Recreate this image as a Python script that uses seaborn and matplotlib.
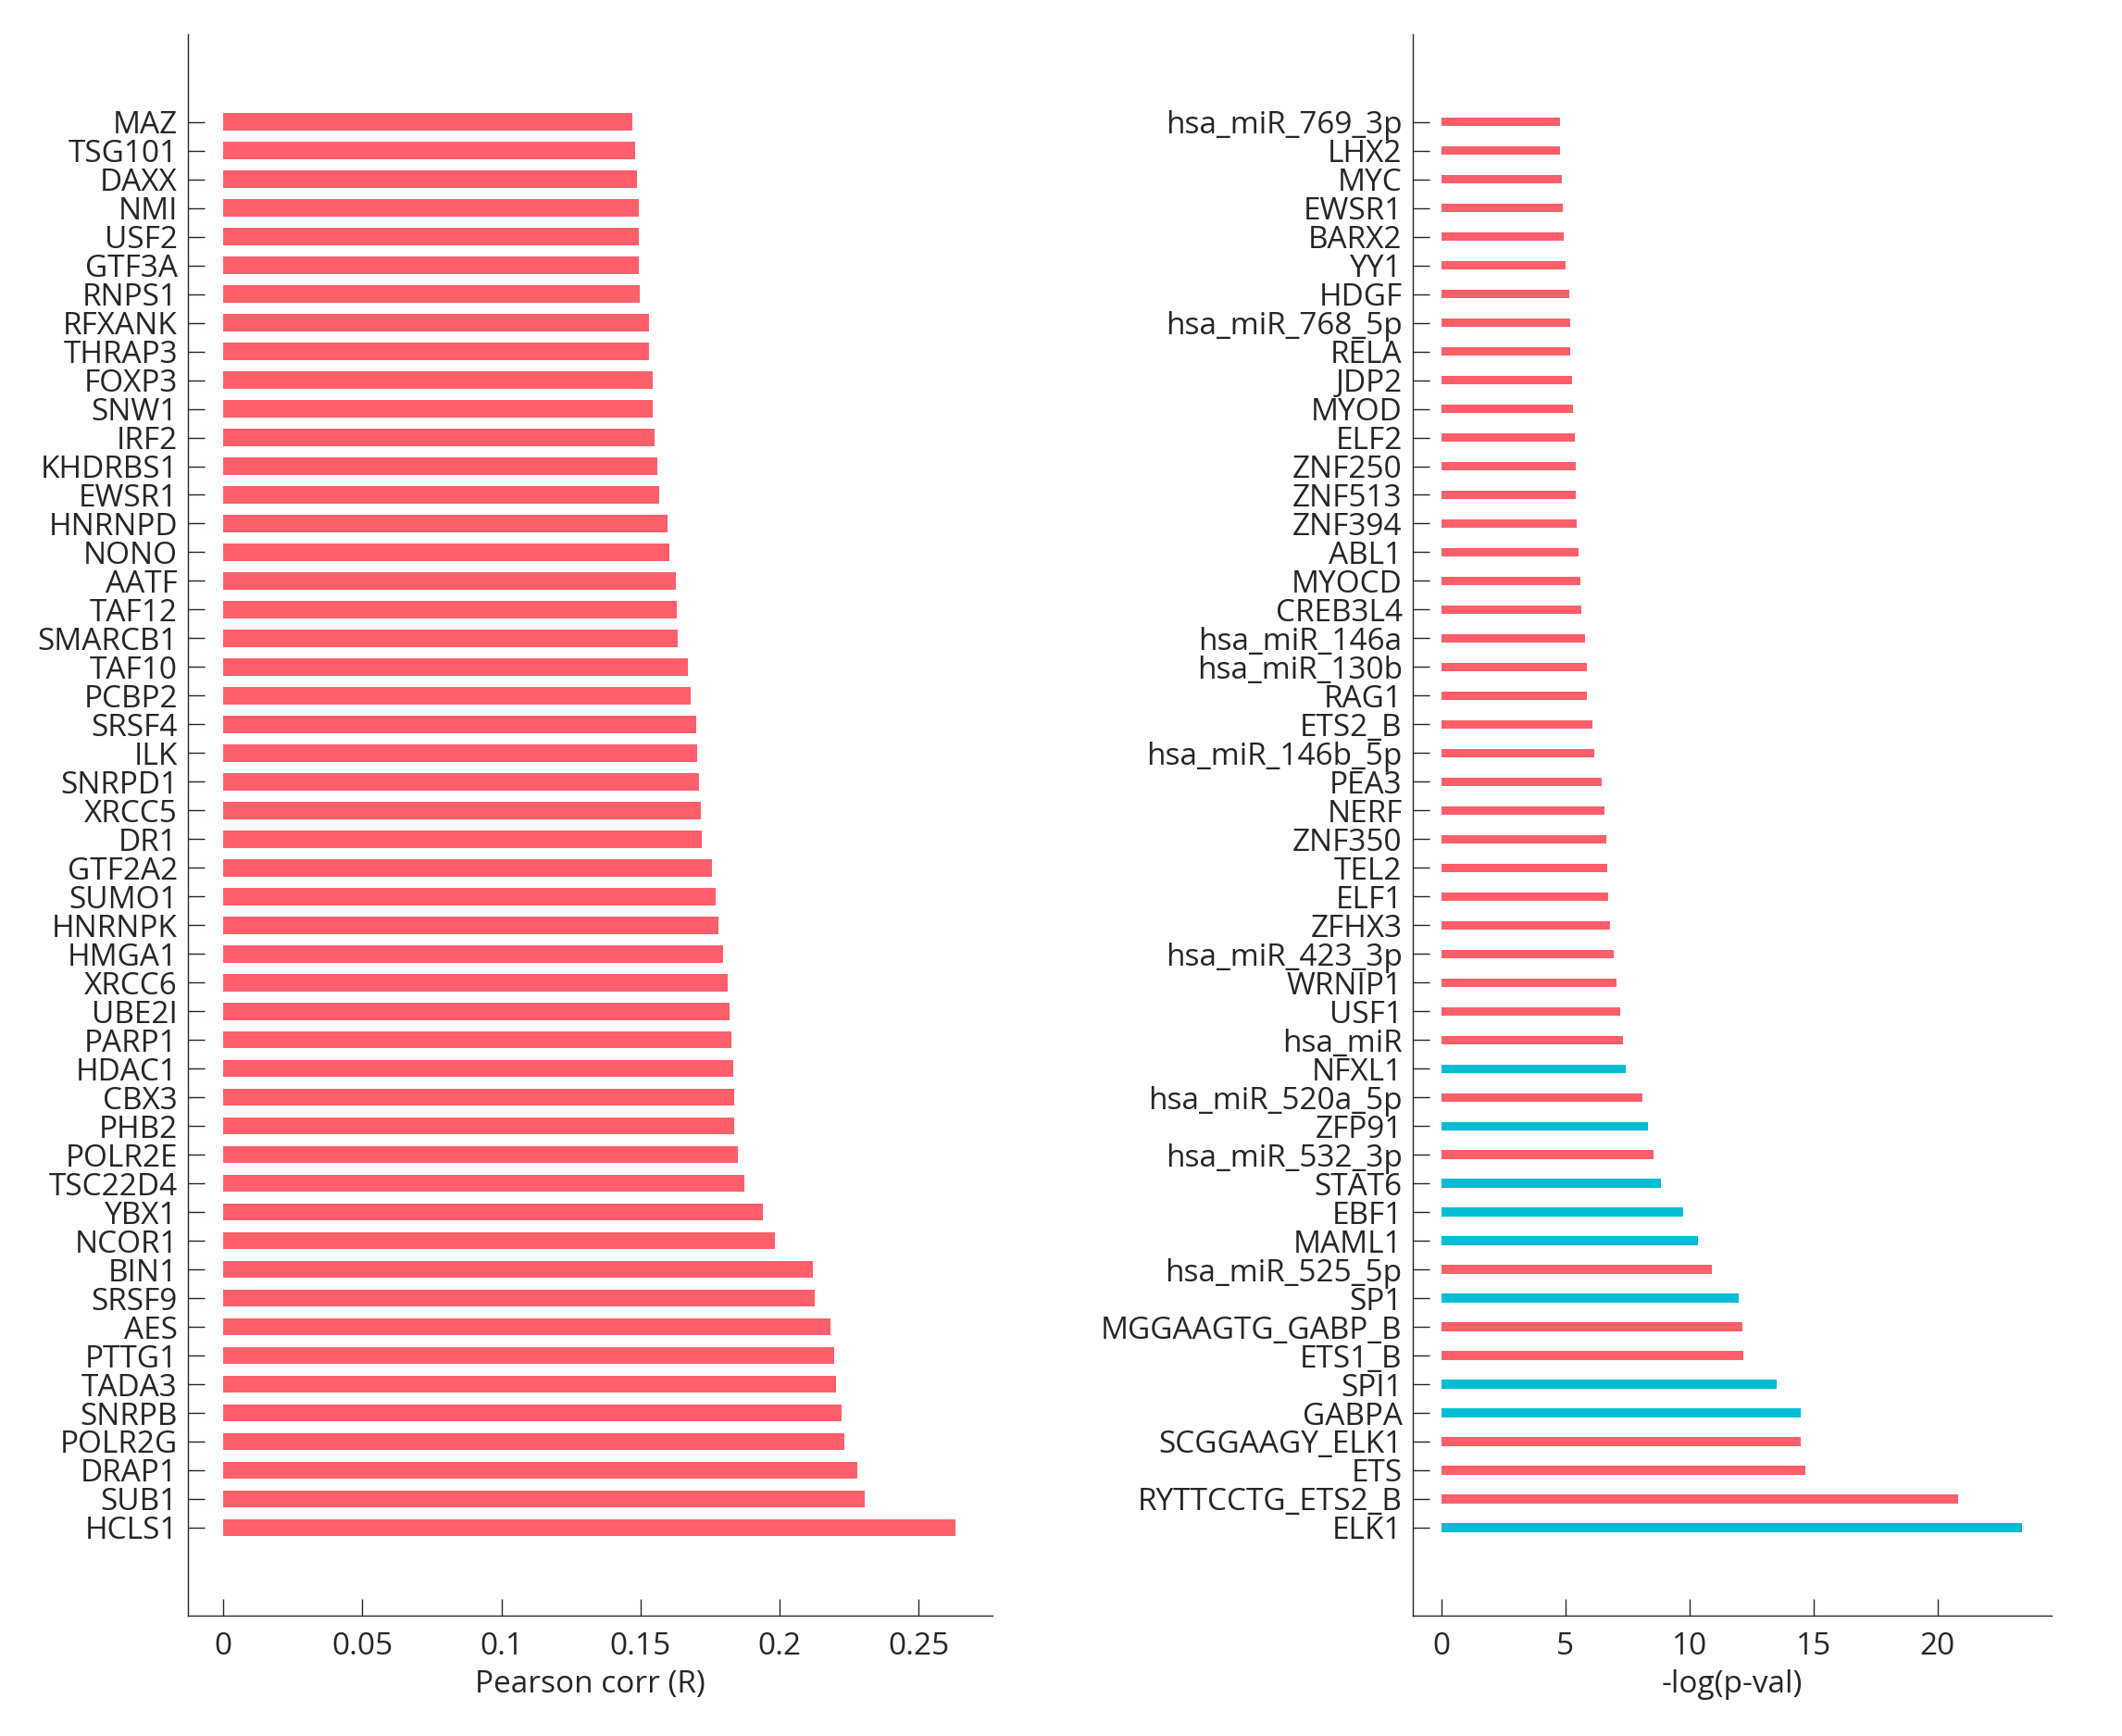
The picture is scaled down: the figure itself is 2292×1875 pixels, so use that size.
import numpy as np
import pandas as pd
import seaborn as sns
import matplotlib
matplotlib.use('Agg')
import matplotlib.pyplot as plt
from matplotlib.ticker import FuncFormatter

# left panel: pearson correlation, listed top to bottom
corr_genes = ['MAZ', 'TSG101', 'DAXX', 'NMI', 'USF2', 'GTF3A', 'RNPS1', 'RFXANK', 'THRAP3', 'FOXP3',
              'SNW1', 'IRF2', 'KHDRBS1', 'EWSR1', 'HNRNPD', 'NONO', 'AATF', 'TAF12', 'SMARCB1', 'TAF10',
              'PCBP2', 'SRSF4', 'ILK', 'SNRPD1', 'XRCC5', 'DR1', 'GTF2A2', 'SUMO1', 'HNRNPK', 'HMGA1',
              'XRCC6', 'UBE2I', 'PARP1', 'HDAC1', 'CBX3', 'PHB2', 'POLR2E', 'TSC22D4', 'YBX1', 'NCOR1',
              'BIN1', 'SRSF9', 'AES', 'PTTG1', 'TADA3', 'SNRPB', 'POLR2G', 'DRAP1', 'SUB1', 'HCLS1']
corr_values = [0.1470, 0.1479, 0.1486, 0.1493, 0.1493, 0.1493, 0.1496, 0.1529, 0.1531, 0.1543,
               0.1543, 0.1550, 0.1561, 0.1568, 0.1596, 0.1603, 0.1627, 0.1629, 0.1632, 0.1669,
               0.1681, 0.1699, 0.1704, 0.1709, 0.1718, 0.1720, 0.1756, 0.1770, 0.1779, 0.1798,
               0.1814, 0.1819, 0.1828, 0.1833, 0.1835, 0.1835, 0.1849, 0.1873, 0.1938, 0.1983,
               0.2118, 0.2125, 0.2182, 0.2196, 0.2203, 0.2221, 0.2233, 0.2278, 0.2306, 0.2633]

# right panel: enrichment -log(p-val), listed top to bottom
tf_names = ['hsa_miR_769_3p', 'LHX2', 'MYC', 'EWSR1', 'BARX2', 'YY1', 'HDGF', 'hsa_miR_768_5p', 'RELA', 'JDP2',
            'MYOD', 'ELF2', 'ZNF250', 'ZNF513', 'ZNF394', 'ABL1', 'MYOCD', 'CREB3L4', 'hsa_miR_146a', 'hsa_miR_130b',
            'RAG1', 'ETS2_B', 'hsa_miR_146b_5p', 'PEA3', 'NERF', 'ZNF350', 'TEL2', 'ELF1', 'ZFHX3', 'hsa_miR_423_3p',
            'WRNIP1', 'USF1', 'hsa_miR', 'NFXL1', 'hsa_miR_520a_5p', 'ZFP91', 'hsa_miR_532_3p', 'STAT6', 'EBF1', 'MAML1',
            'hsa_miR_525_5p', 'SP1', 'MGGAAGTG_GABP_B', 'ETS1_B', 'SPI1', 'GABPA', 'SCGGAAGY_ELK1', 'ETS',
            'RYTTCCTG_ETS2_B', 'ELK1']
tf_logp = [4.77, 4.80, 4.85, 4.91, 4.93, 4.99, 5.15, 5.18, 5.20, 5.26,
           5.31, 5.37, 5.42, 5.42, 5.47, 5.53, 5.61, 5.64, 5.80, 5.85,
           5.85, 6.10, 6.15, 6.45, 6.56, 6.64, 6.69, 6.72, 6.78, 6.94,
           7.05, 7.21, 7.32, 7.43, 8.10, 8.32, 8.56, 8.86, 9.73, 10.35,
           10.89, 12.00, 12.14, 12.17, 13.50, 14.47, 14.47, 14.66, 20.81, 23.41]
tf_in_list = ['NFXL1', 'ZFP91', 'STAT6', 'EBF1', 'MAML1', 'SP1', 'SPI1', 'GABPA', 'ELK1']

red = '#FF5E6B'
cyan = '#00BCD4'

sns.set_style('ticks')
plt.rcParams['font.family'] = ['Open Sans', 'DejaVu Sans']
plt.rcParams['axes.linewidth'] = 1.0

fig = plt.figure(figsize=(22.92, 18.75), dpi=100)
ax1 = fig.add_axes([0.0886, 0.0693, 0.3789, 0.9112])
ax2 = fig.add_axes([0.6657, 0.0693, 0.3012, 0.9112])

# left bars
df1 = pd.DataFrame({'gene': corr_genes, 'r': corr_values})
sns.barplot(data=df1, x='r', y='gene', orient='h', color=red, saturation=1,
            width=0.6, linewidth=0, ax=ax1)
ax1.set_xlim(-0.01265, 0.2763)
ax1.set_xticks([0, 0.05, 0.1, 0.15, 0.2, 0.25])
ax1.xaxis.set_major_formatter(FuncFormatter(lambda v, p: '%g' % v))
ax1.set_xlabel('Pearson corr (R)', fontsize=24, labelpad=6)

# right bars
df2 = pd.DataFrame({'tf': tf_names, 'logp': tf_logp})
df2['grp'] = np.where(df2['tf'].isin(tf_in_list), 'in', 'out')
sns.barplot(data=df2, x='logp', y='tf', orient='h', hue='grp', palette={'in': cyan, 'out': red},
            saturation=1, dodge=False, width=0.3, linewidth=0, legend=False, ax=ax2)
ax2.set_xlim(-1.157, 24.6)
ax2.set_xticks([0, 5, 10, 15, 20])
ax2.set_xlabel('-log(p-val)', fontsize=24, labelpad=6)

n = len(corr_genes)
for ax in (ax1, ax2):
    ax.set_ylim(n - 1 + 3.07, -3.07)
    ax.set_ylabel('')
    sns.despine(ax=ax)
    ax.tick_params(axis='both', direction='in', length=13, width=1.0, labelsize=24)
    ax.tick_params(axis='x', pad=12)
    ax.tick_params(axis='y', pad=8)

fig.savefig('out.png', dpi=100)
